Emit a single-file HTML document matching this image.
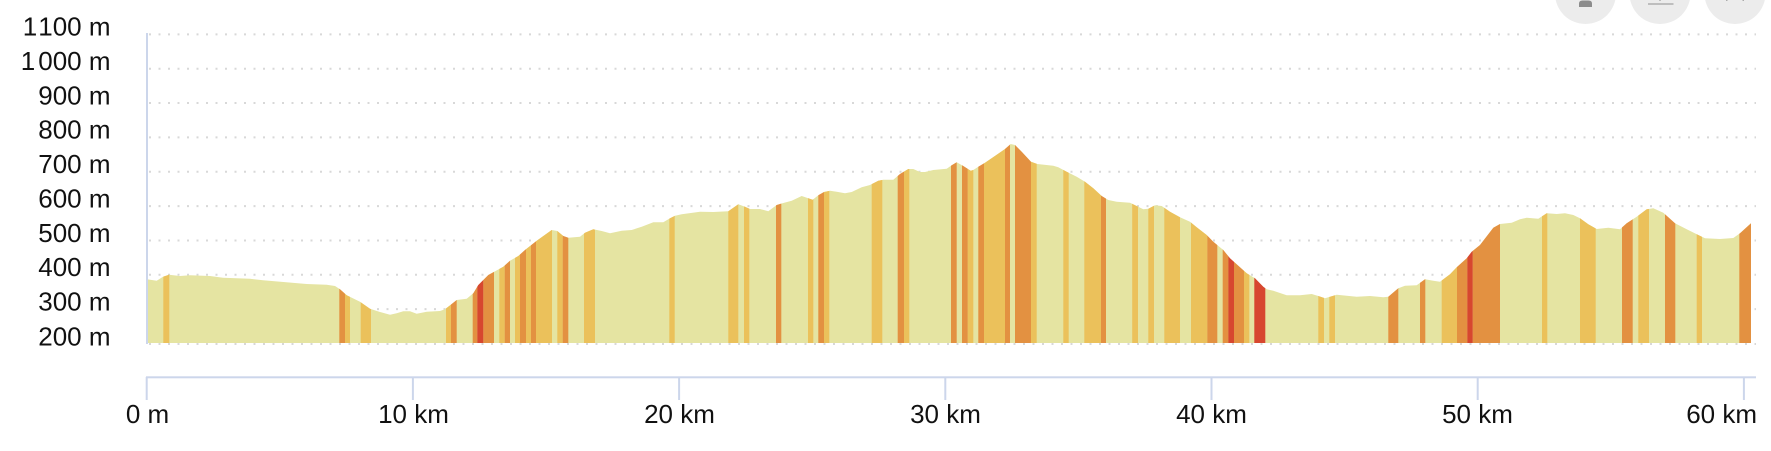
<!DOCTYPE html>
<html>
<head>
<meta charset="utf-8">
<style>
html,body{margin:0;padding:0;background:#fff;}
body{width:1771px;height:451px;overflow:hidden;}
svg{display:block;}
text{font-family:"Liberation Sans",Arial,sans-serif;font-size:26px;fill:#111;}
</style>
</head>
<body>
<svg width="1771" height="451" viewBox="0 0 1771 451" xmlns="http://www.w3.org/2000/svg">
<defs>
<clipPath id="prof">
<path d="M147,343 L147,279.3 L156.7,280.7 L163,276.7 L169,274.7 L180,276 L190,275.3 L210,276 L223,277.7 L250,278.7 L263,280.3 L306.7,284 L326.7,284.7 L335,286 L340,289.3 L346.7,295.3 L360,301.7 L370,308.7 L380,312 L390,314.7 L396.7,313.3 L403.3,311.3 L410,311.3 L416.7,313.7 L426.7,311.7 L440,311 L445,309.3 L451.7,304 L456.7,300 L466.7,298.7 L473.3,293.3 L478.3,285 L483.3,280 L488.3,275 L493.3,272.3 L503.3,266.7 L510,260.7 L518.3,256 L525,250 L536.7,240.7 L551.7,230 L557.3,231 L563.3,236 L568.3,237.7 L580,236.7 L585,232.7 L593.3,229.3 L601.7,231 L610,233.3 L621.7,230.7 L631.7,230 L641.7,226.7 L653.3,222.3 L663.3,222.3 L670,218.3 L675,215.7 L681.7,214.3 L700,211.7 L713.3,212 L728.3,211.3 L738.3,204.3 L745,206.7 L750,209 L760,209 L768.3,211.3 L776.7,205 L783.3,203 L791.7,200.7 L801.7,196 L808.3,198.3 L812.7,199.7 L818.3,195.3 L824,192 L830,190.7 L836.7,191.7 L845,193.3 L851.7,192 L861.7,187.3 L870,185 L878.3,180.7 L883.3,179.7 L893.3,179.7 L900,174 L908.3,169 L913.3,169 L920,172 L925,172 L933.3,170 L946.7,168.7 L951.7,165.3 L956.7,162.3 L963.3,166 L970.7,170.7 L973.3,170 L978.3,166.7 L985,162.7 L996.7,154.7 L1005,149 L1010.7,144 L1015,145 L1021.7,151.7 L1031,161.7 L1037.3,164 L1053.3,165.7 L1058.3,167.3 L1066.7,171.7 L1076.7,176.7 L1085,181.7 L1093.3,188.3 L1101.7,196 L1108.3,200 L1116.7,201.7 L1130,202.8 L1136.7,206 L1143.3,209.3 L1148.3,208.7 L1155,205.3 L1161.7,206 L1170,211.7 L1180,217.3 L1190,221.7 L1196.7,227.3 L1206.7,235 L1213.3,241.7 L1223.3,250 L1230,258.3 L1240,267.3 L1246.7,273.3 L1255,278.3 L1263.3,286.7 L1266.7,289.3 L1273.3,290.7 L1286.7,295.3 L1300,295.3 L1311.7,294 L1318.3,296 L1325,298.3 L1336.7,294.7 L1356.7,296.7 L1370,296 L1383.3,297.3 L1388.3,296.7 L1398.3,288.3 L1405,285.7 L1416.7,285.3 L1425,279.3 L1433.3,280.7 L1440,281.7 L1450,274.2 L1456.7,267.3 L1466.7,258.3 L1471.7,251.7 L1480,245 L1493.3,227.7 L1500,224 L1511.7,222.7 L1520,219.3 L1526.7,217.7 L1538.3,218.7 L1546.7,213.3 L1556.7,214 L1565,213.3 L1573.3,215 L1580,218.3 L1588.3,224.3 L1596.7,229 L1608.3,227.7 L1620,229.3 L1626.7,223.3 L1636.7,216.7 L1646.7,209.3 L1653.3,208.3 L1663.3,212.7 L1675,223.3 L1686.7,229.3 L1698.3,235 L1705,238.3 L1720,239 L1733.3,238 L1740,233.3 L1751,223.3 L1751,343 Z"/>
</clipPath>
</defs>

<!-- top-right buttons -->
<circle cx="1585.5" cy="-6.5" r="30.5" fill="#ececec"/>
<circle cx="1660" cy="-6.5" r="30.5" fill="#ececec"/>
<circle cx="1735" cy="-6.5" r="30.5" fill="#ececec"/>
<path d="M1579,7 L1579,3.5 Q1579,0.5 1582.5,0.5 L1588.5,0.5 Q1592,0.5 1592,3.5 L1592,7 Z" fill="#8c8c8c"/>
<rect x="1585" y="-3" width="1.5" height="2.5" fill="#8c8c8c"/>
<rect x="1648" y="3.3" width="25.5" height="1.4" fill="#ababab"/>
<rect x="1659.3" y="0" width="1.4" height="1" fill="#ababab"/>
<rect x="1726" y="0" width="1.5" height="1" fill="#ababab"/>
<rect x="1742.5" y="0" width="1.5" height="1" fill="#ababab"/>

<!-- gridlines -->
<g stroke="#d8d8d8" stroke-width="2" stroke-dasharray="2 7.5" fill="none">
<line x1="149" y1="344" x2="1756" y2="344"/>
<line x1="149" y1="309.15" x2="1756" y2="309.15"/>
<line x1="149" y1="274.8" x2="1756" y2="274.8"/>
<line x1="149" y1="240.45" x2="1756" y2="240.45"/>
<line x1="149" y1="206.1" x2="1756" y2="206.1"/>
<line x1="149" y1="171.75" x2="1756" y2="171.75"/>
<line x1="149" y1="137.4" x2="1756" y2="137.4"/>
<line x1="149" y1="103.05" x2="1756" y2="103.05"/>
<line x1="149" y1="68.7" x2="1756" y2="68.7"/>
<line x1="149" y1="34.35" x2="1756" y2="34.35"/>
</g>

<!-- profile -->
<g clip-path="url(#prof)">
<rect x="147" y="100" width="1610" height="243" fill="#e5e4a2"/>
<g fill="#ebc15b">
<rect x="163.3" y="100" width="6" height="243"/>
<rect x="345" y="100" width="5" height="243"/>
<rect x="360.7" y="100" width="10.3" height="243"/>
<rect x="446" y="100" width="5" height="243"/>
<rect x="499.3" y="100" width="5.4" height="243"/>
<rect x="515" y="100" width="5" height="243"/>
<rect x="526" y="100" width="5" height="243"/>
<rect x="536" y="100" width="16" height="243"/>
<rect x="557.3" y="100" width="5.4" height="243"/>
<rect x="584" y="100" width="11" height="243"/>
<rect x="669.3" y="100" width="5.4" height="243"/>
<rect x="728.3" y="100" width="10" height="243"/>
<rect x="744" y="100" width="5.3" height="243"/>
<rect x="808" y="100" width="5.3" height="243"/>
<rect x="824" y="100" width="5.3" height="243"/>
<rect x="871.7" y="100" width="10.6" height="243"/>
<rect x="904" y="100" width="5.3" height="243"/>
<rect x="967.7" y="100" width="5.6" height="243"/>
<rect x="984" y="100" width="21" height="243"/>
<rect x="1031" y="100" width="5.7" height="243"/>
<rect x="1063.3" y="100" width="5.4" height="243"/>
<rect x="1084.3" y="100" width="16.7" height="243"/>
<rect x="1132.2" y="100" width="5.8" height="243"/>
<rect x="1148.3" y="100" width="5.7" height="243"/>
<rect x="1164.3" y="100" width="15.7" height="243"/>
<rect x="1191" y="100" width="16.3" height="243"/>
<rect x="1244" y="100" width="5.3" height="243"/>
<rect x="1318.3" y="100" width="5.7" height="243"/>
<rect x="1329.3" y="100" width="5.7" height="243"/>
<rect x="1441.7" y="100" width="15.3" height="243"/>
<rect x="1542" y="100" width="5.3" height="243"/>
<rect x="1580" y="100" width="15.7" height="243"/>
<rect x="1638.3" y="100" width="10.7" height="243"/>
<rect x="1696.7" y="100" width="5.3" height="243"/>
</g>
<g fill="#e39141">
<rect x="339.3" y="100" width="5.7" height="243"/>
<rect x="451" y="100" width="5.7" height="243"/>
<rect x="472.7" y="100" width="4.6" height="243"/>
<rect x="483.3" y="100" width="10.7" height="243"/>
<rect x="504.7" y="100" width="5.3" height="243"/>
<rect x="520" y="100" width="6" height="243"/>
<rect x="531" y="100" width="5" height="243"/>
<rect x="562.7" y="100" width="5.6" height="243"/>
<rect x="776" y="100" width="5.3" height="243"/>
<rect x="818.3" y="100" width="5.7" height="243"/>
<rect x="897.7" y="100" width="6.3" height="243"/>
<rect x="951" y="100" width="5.7" height="243"/>
<rect x="962" y="100" width="5.7" height="243"/>
<rect x="978.3" y="100" width="5.7" height="243"/>
<rect x="1005" y="100" width="5" height="243"/>
<rect x="1015" y="100" width="16" height="243"/>
<rect x="1101" y="100" width="5" height="243"/>
<rect x="1207.3" y="100" width="10" height="243"/>
<rect x="1222.7" y="100" width="5.6" height="243"/>
<rect x="1234" y="100" width="10" height="243"/>
<rect x="1388.3" y="100" width="10" height="243"/>
<rect x="1420" y="100" width="5.3" height="243"/>
<rect x="1457" y="100" width="10.3" height="243"/>
<rect x="1472.7" y="100" width="27.3" height="243"/>
<rect x="1622" y="100" width="10.7" height="243"/>
<rect x="1665" y="100" width="10.3" height="243"/>
<rect x="1739.3" y="100" width="11.7" height="243"/>
</g>
<g fill="#d7472f">
<rect x="477.3" y="100" width="6" height="243"/>
<rect x="1228.3" y="100" width="5.7" height="243"/>
<rect x="1254.3" y="100" width="11" height="243"/>
<rect x="1467.3" y="100" width="5.4" height="243"/>
</g>
</g>

<!-- axes -->
<rect x="146" y="33" width="2" height="311" fill="#ccd6eb"/>
<rect x="146" y="376.3" width="1610" height="2" fill="#ccd6eb"/>
<g fill="#ccd6eb">
<rect x="145.7" y="377" width="2" height="23"/>
<rect x="411.9" y="377" width="2" height="23"/>
<rect x="678.1" y="377" width="2" height="23"/>
<rect x="944.3" y="377" width="2" height="23"/>
<rect x="1210.5" y="377" width="2" height="23"/>
<rect x="1476.7" y="377" width="2" height="23"/>
<rect x="1742.9" y="377" width="2" height="23"/>
</g>

<!-- y labels -->
<g text-anchor="end">
<text x="110.5" y="345.3">200 m</text>
<text x="110.5" y="310.45">300 m</text>
<text x="110.5" y="276.1">400 m</text>
<text x="110.5" y="241.75">500 m</text>
<text x="110.5" y="207.4">600 m</text>
<text x="110.5" y="173.05">700 m</text>
<text x="110.5" y="138.7">800 m</text>
<text x="110.5" y="104.35">900 m</text>
<text x="110.5" y="70">1<tspan dx="3">000 m</tspan></text>
<text x="110.5" y="35.65">1<tspan dx="3">100 m</tspan></text>
</g>

<!-- x labels -->
<g text-anchor="middle">
<text x="147.5" y="423">0 m</text>
<text x="413.5" y="423">10 km</text>
<text x="679.5" y="423">20 km</text>
<text x="945.5" y="423">30 km</text>
<text x="1211.5" y="423">40 km</text>
<text x="1477.5" y="423">50 km</text>
</g>
<text x="1757" y="423" text-anchor="end">60 km</text>
</svg>
</body>
</html>
